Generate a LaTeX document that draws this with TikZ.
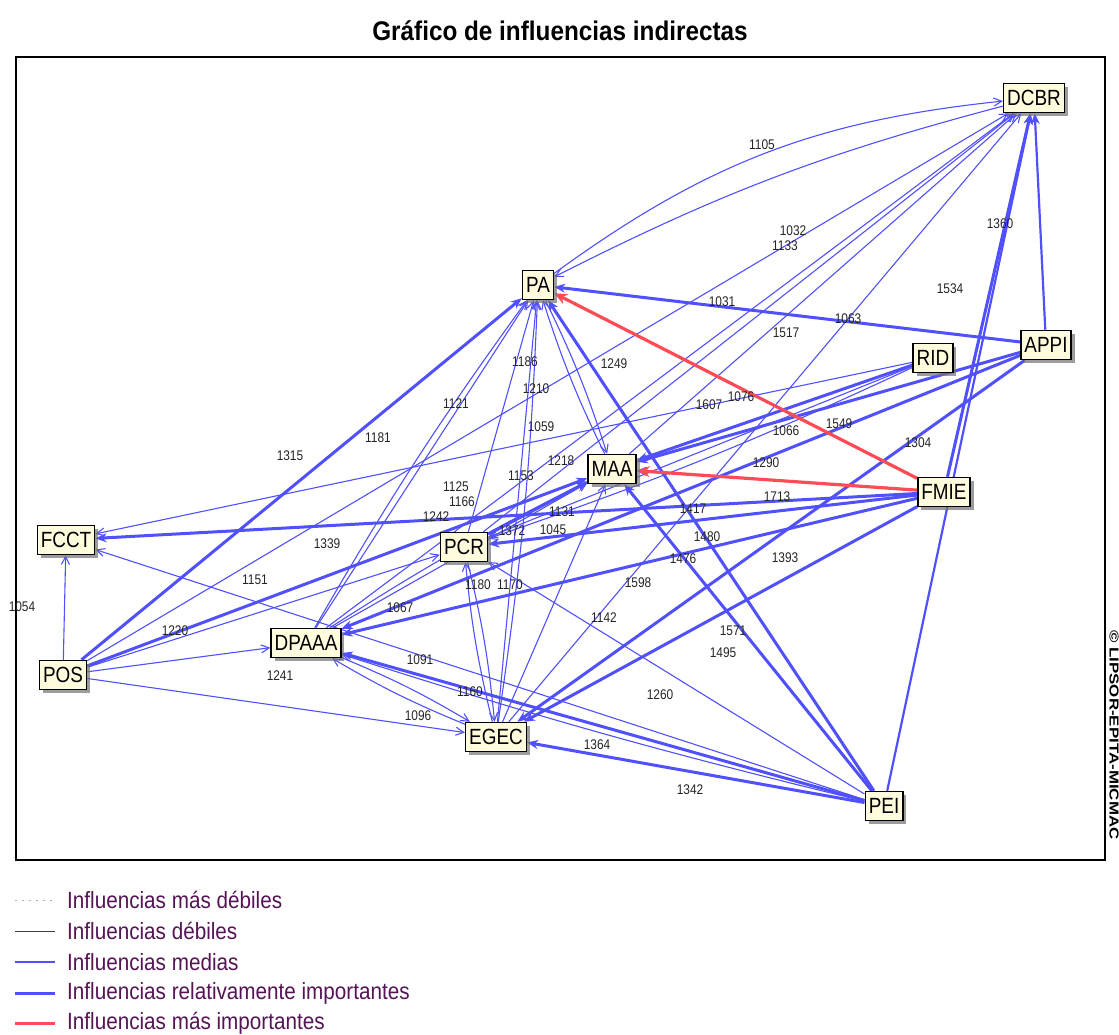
\documentclass[tikz,border=0pt]{standalone}
\usepackage{fontspec}
\setmainfont{Liberation Sans}
\newfontfamily\numfont[FakeStretch=0.85]{Liberation Sans}
\newfontfamily\nodefont[FakeStretch=0.86]{Liberation Sans}
\newfontfamily\legfont[FakeStretch=0.88]{Liberation Sans}
\newfontfamily\titfont[FakeStretch=0.9]{Liberation Sans}
\usetikzlibrary{arrows.meta,shadows}
\pgfdeclarelayer{bg}
\pgfsetlayers{bg,main}
\definecolor{eblue}{RGB}{80,80,255}
\definecolor{ered}{RGB}{255,75,85}
\definecolor{nfill}{RGB}{255,252,222}
\definecolor{legtxt}{RGB}{85,20,85}
\begin{document}
\begin{tikzpicture}[x=1pt,y=-1pt,
  var/.style={draw=black, line width=1.5pt, fill=nfill, inner xsep=3.5pt, inner ysep=0pt,
    minimum height=29pt, font=\nodefont\fontsize{22}{22}\selectfont,
    drop shadow={shadow xshift=3.5pt, shadow yshift=-3.5pt, fill=black!55, opacity=0.7}},
  lab/.style={font=\numfont\fontsize{14}{14}\selectfont, inner sep=0pt, text=black!85},
  med/.style={eblue, line width=1.1pt, -{Straight Barb[length=8pt,width=8pt]}},
  rel/.style={eblue, line width=3pt, -{Stealth[length=11pt,width=9pt]}},
  topi/.style={ered, line width=3.2pt, -{Stealth[length=13pt,width=11pt]}},
  leg/.style={font=\legfont\fontsize{23.5}{23.5}\selectfont, text=legtxt, anchor=west, inner sep=0pt}
]
\useasboundingbox (0,0) rectangle (1119,1035);
\begin{pgfonlayer}{bg}
\fill[white] (0,0) rectangle (1119,1035);
\end{pgfonlayer}

% title and frame
\node[font=\titfont\bfseries\fontsize{27}{27}\selectfont] (title) at (560,31) {Gráfico de influencias indirectas};
\draw[line width=1.4pt] (16,57) rectangle (1105,860);
\node[rotate=-90, anchor=west, font=\bfseries\fontsize{13}{13}\selectfont, inner sep=0pt] (copy) at (1114,630) {\scalebox{1.3}[1]{© LIPSOR-EPITA-MICMAC}};

% variables
\node[var] (DCBR)  at (1034,98)  {DCBR};
\node[var] (PA)    at (538,285)  {PA};
\node[var] (APPI)  at (1046,345) {APPI};
\node[var] (RID)   at (933,358)  {RID};
\node[var] (MAA)   at (612,469)  {MAA};
\node[var] (FMIE)  at (944,492)  {FMIE};
\node[var] (FCCT)  at (66,540)   {FCCT};
\node[var] (PCR)   at (464,547)  {PCR};
\node[var] (DPAAA) at (306,643)  {DPAAA};
\node[var] (POS)   at (63,675)   {POS};
\node[var] (EGEC)  at (496,737)  {EGEC};
\node[var] (PEI)   at (884,806)  {PEI};

\begin{pgfonlayer}{bg}
% medium influences
\draw[med] (PA) to[bend left=15] (DCBR);
\draw[med] (DCBR) to[bend right=6] (PA);
\draw[med] (POS) -- (DCBR);
\draw[med] (DPAAA) -- (DCBR);
\draw[med] (PCR) -- (DCBR);
\draw[med] (MAA) -- (DCBR);
\draw[med] (EGEC) -- (DCBR);
\draw[med] (POS) -- (FCCT);
\draw[med] (POS) -- (DPAAA);
\draw[med] (POS) -- (EGEC);
\draw[med] (POS) -- (PCR);
\draw[med] (DPAAA) to[bend left=4] (EGEC);
\draw[med] (EGEC) to[bend left=4] (DPAAA);
\draw[med] (RID) -- (FCCT);
\draw[med] (PEI) -- (FCCT);
\draw[med] (PEI) to[bend left=2] (DPAAA);
\draw[med] (DPAAA) -- (PA);
\draw[med] (DPAAA) to[bend left=3] (PA);
\draw[med] (PCR) -- (PA);
\draw[med] (EGEC) -- (PA);
\draw[med] (EGEC) to[bend right=3] (PA);
\draw[med] (PA) to[bend left=4] (MAA);
\draw[med] (MAA) to[bend left=4] (PA);
\draw[med] (EGEC) -- (MAA);
\draw[med] (DPAAA) -- (MAA);
\draw[med] (DPAAA) to[bend left=3] (MAA);
\draw[med] (RID) -- (PCR);
\draw[med] (RID) to[bend left=3] (PCR);
\draw[med] (PCR) to[bend left=4] (EGEC);
\draw[med] (EGEC) to[bend left=4] (PCR);
\draw[med] (PEI) -- (PCR);
\draw[med] (FMIE) -- (MAA);
% relatively important influences
\draw[rel] (APPI) -- (PA);
\draw[rel, line width=2.2pt] (APPI) -- (DCBR);
\draw[rel] (FMIE) -- (DCBR);
\draw[rel, line width=2.2pt] (PEI) -- (DCBR);
\draw[rel] (POS) -- (PA);
\draw[rel] (POS) -- (MAA);
\draw[rel] (FMIE) -- (FCCT);
\draw[rel] (FMIE) -- (DPAAA);
\draw[rel] (FMIE) -- (EGEC);
\draw[rel] (FMIE) -- (PCR);
\draw[rel] (APPI) -- (MAA);
\draw[rel] (RID) -- (MAA);
\draw[rel] (APPI) -- (EGEC);
\draw[rel] (APPI) -- (DPAAA);
\draw[rel] (PEI) -- (PA);
\draw[rel] (PEI) -- (MAA);
\draw[rel] (PEI) -- (DPAAA);
\draw[rel] (PEI) -- (EGEC);
\draw[rel] (PCR) -- (MAA);
% most important influences
\draw[topi] (FMIE) -- (PA);
\draw[topi] (FMIE) -- (MAA);
\end{pgfonlayer}

% edge values
\foreach \t/\x/\y [count=\i] in {
 1105/762/145, 1032/793/231, 1133/785/246, 1360/1000/224, 1534/950/289,
 1031/722/302, 1063/848/319, 1517/786/333, 1249/614/364, 1186/525/362,
 1210/536/389, 1121/456/404, 1059/541/427, 1607/709/405, 1076/741/397,
 1549/839/424, 1066/786/431, 1181/378/438, 1315/290/456, 1304/918/443,
 1218/561/461, 1290/766/463, 1125/456/487, 1153/521/476, 1166/462/502,
 1713/777/497, 1242/436/517, 1131/562/512, 1417/693/509, 1372/512/531,
 1045/553/530, 1339/327/544, 1480/707/537, 1476/683/559, 1393/785/558,
 1151/255/580, 1180/478/585, 1170/510/585, 1598/638/583, 1067/400/608,
 1142/604/618, 1054/22/607, 1220/175/631, 1571/733/631, 1495/723/653,
 1091/420/660, 1241/280/676, 1260/660/695, 1160/470/692, 1096/418/716,
 1364/597/745, 1342/690/790}
 \node[lab] (v\i) at (\x,\y) {\t};

% legend
\coordinate (la1) at (15,900);  \coordinate (lb1) at (55,900);
\coordinate (la2) at (15,931);  \coordinate (lb2) at (55,931);
\coordinate (la3) at (15,962);  \coordinate (lb3) at (55,962);
\coordinate (la4) at (15,993);  \coordinate (lb4) at (55,993);
\coordinate (la5) at (15,1023); \coordinate (lb5) at (55,1023);
\draw[black!30, line width=1pt, dash pattern=on 2pt off 5pt] (la1) -- (lb1);
\draw[black!75, line width=1pt] (la2) -- (lb2);
\draw[eblue, line width=1.2pt] (la3) -- (lb3);
\draw[eblue, line width=3pt] (la4) -- (lb4);
\draw[ered, line width=3pt] (la5) -- (lb5);
\node[leg] (t1) at (67,900)  {Influencias más débiles};
\node[leg] (t2) at (67,931)  {Influencias débiles};
\node[leg] (t3) at (67,962)  {Influencias medias};
\node[leg] (t4) at (67,993)  {Influencias relativamente importantes};
\node[leg] (t5) at (67,1023) {Influencias más importantes};
\end{tikzpicture}
\end{document}
